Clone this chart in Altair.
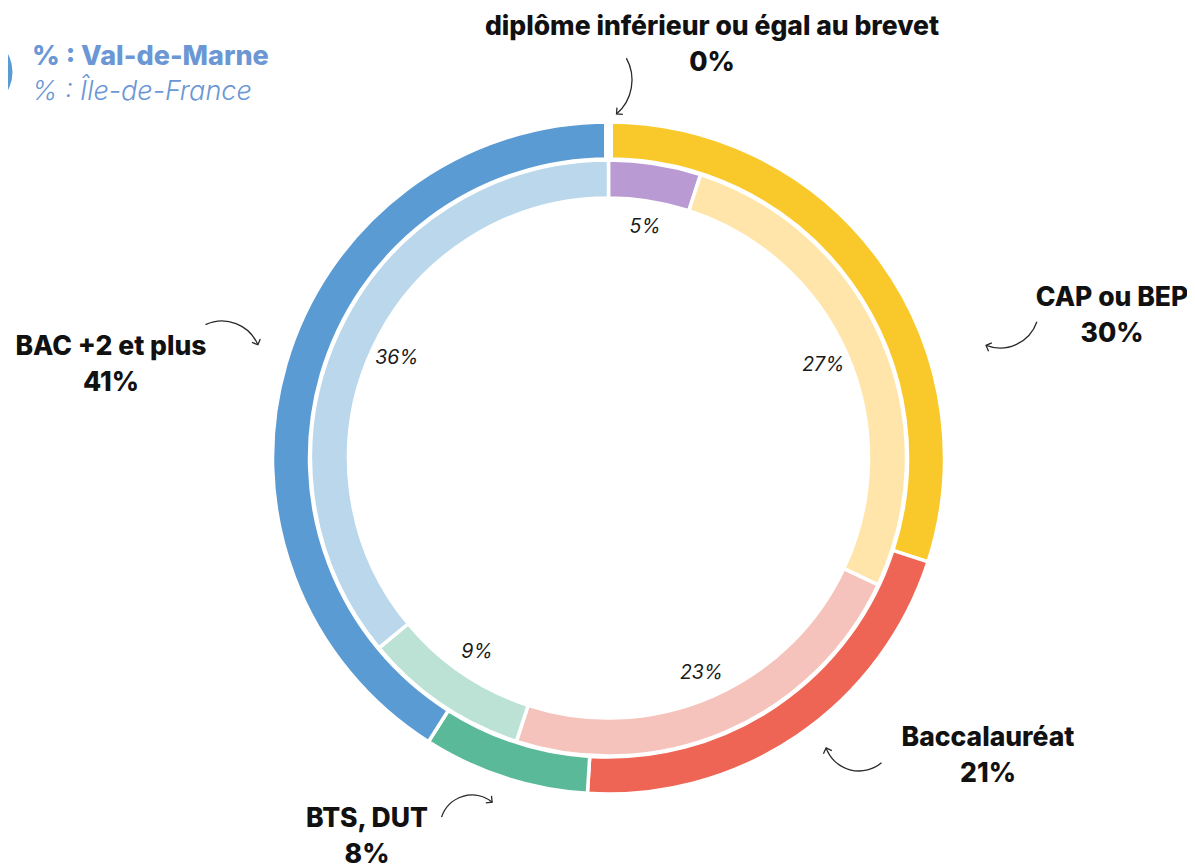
import math
import altair as alt
import pandas as pd

# ---------------- data ----------------
categories = ["diplôme inférieur  ou égal au brevet", "CAP ou BEP", "Baccalauréat", "BTS, DUT", "BAC +2 et plus"]
val_de_marne = [0, 30, 21, 8, 41]
ile_de_france = [5, 27, 23, 9, 36]
legend_labels = ["% : Val-de-Marne", "% : Île-de-France"]

# ---------------- styles / layout ----------------
outer_colors = ["#B99AD2", "#F9C92C", "#EE6555", "#59B998", "#5B9BD3"]
inner_colors = ["#B99AD2", "#FFE5A9", "#F5C3BB", "#BCE2D6", "#BAD7EB"]
FONT = "Inter"
LBL_SIZE = 26.5
CX, CY = 600.5, 450.0
# outer label anchor positions (plot pixels), one per category
label_x = [704, 1104, 980, 359, 103]
label_y = [19, 290, 730, 811, 339]
# decorative arrows: centre x, centre y, radius, start deg, end deg
arrows = [
    (579, 72, 45, 61, 139),
    (992, 301, 39, 109, 201),
    (214, 352, 39, 335, 427),
    (464, 819, 32, 288, 399),
    (851, 728, 35, 140, 250),
]

df = pd.DataFrame({
    "cat": categories,
    "idx": list(range(len(categories))),
    "vdm": val_de_marne,
    "idf": ile_de_france,
})
df["vdm_lbl"] = [f"{v}%" for v in val_de_marne]
df["idf_lbl"] = [f"{v}%" for v in ile_de_france]

lbl = pd.DataFrame({"name": categories, "pct": [f"{v}%" for v in val_de_marne],
                    "lx": label_x, "ly": label_y})

outer = alt.Chart(df).mark_arc(innerRadius=299, outerRadius=336, stroke="white", strokeWidth=3.5).encode(
    theta=alt.Theta("vdm:Q", stack=True),
    order=alt.Order("idx:Q"),
    color=alt.Color("cat:N", scale=alt.Scale(domain=categories, range=outer_colors), legend=None),
    x=alt.value(CX), y=alt.value(CY),
)

# the empty (0 %) slice is drawn on top as a wider white separator
gap = alt.Chart(df).transform_window(
    cum="sum(vdm)", sort=[alt.SortField("idx")]
).transform_calculate(start="datum.cum - datum.vdm").transform_filter(
    "datum.vdm == 0"
).mark_arc(innerRadius=299, outerRadius=337, stroke="white", strokeWidth=9, fill="white").encode(
    theta=alt.Theta("start:Q", stack=False),
    theta2=alt.Theta2("cum:Q"),
    x=alt.value(CX), y=alt.value(CY),
)

inner = alt.Chart(df).mark_arc(innerRadius=260, outerRadius=298, stroke="white", strokeWidth=3.5).encode(
    theta=alt.Theta("idf:Q", stack=True),
    order=alt.Order("idx:Q"),
    fill=alt.Fill("cat:N", scale=alt.Scale(domain=categories, range=inner_colors), legend=None),
    x=alt.value(CX), y=alt.value(CY),
)

inner_txt = alt.Chart(df).mark_text(radius=234, font=FONT, fontSize=19.5, fontStyle="italic",
                                    fontWeight=400, color="#1a1a1a").encode(
    theta=alt.Theta("idf:Q", stack=True),
    order=alt.Order("idx:Q"),
    text="idf_lbl:N",
    x=alt.value(CX), y=alt.value(CY),
)

name_txt = alt.Chart(lbl).mark_text(font=FONT, fontSize=LBL_SIZE, fontWeight=800, color="#111",
                                    align="center", baseline="middle").encode(
    x=alt.X("lx:Q", scale=None), y=alt.Y("ly:Q", scale=None), text="name:N")
pct_txt = alt.Chart(lbl).mark_text(font=FONT, fontSize=LBL_SIZE, fontWeight=800, color="#111",
                                   align="center", baseline="middle", dy=36).encode(
    x=alt.X("lx:Q", scale=None), y=alt.Y("ly:Q", scale=None), text="pct:N")

one = pd.DataFrame({"k": [0]})
deco = []
for (cx, cy, r, a0, a1) in arrows:
    t0, t1 = math.radians(a0), math.radians(a1)
    deco.append(alt.Chart(one).mark_arc(innerRadius=r, outerRadius=r, theta=t0, theta2=t1,
                                        fillOpacity=0, stroke="#2a2a2a", strokeWidth=1.3).encode(
        x=alt.value(cx), y=alt.value(cy)))
    px = cx + r * math.sin(t1)
    py = cy - r * math.cos(t1)
    deco.append(alt.Chart(one).mark_point(shape="M-1,-1L0,0L-1,1", filled=False, size=80,
                                          strokeWidth=1.3, color="#2a2a2a", angle=a1 % 360,
                                          opacity=1).encode(
        x=alt.value(px), y=alt.value(py)))

ring = alt.Chart(one).mark_arc(innerRadius=31, outerRadius=38.5, theta=0, theta2=6.2832,
                               color="#5B9BD3").encode(x=alt.value(-34), y=alt.value(64))
leg1 = alt.Chart(one).mark_text(text=legend_labels[0], font=FONT, fontSize=27, fontWeight=800,
                                color="#6B97D5", align="left", baseline="middle").encode(
    x=alt.value(24), y=alt.value(49))
leg2 = alt.Chart(one).mark_text(text=legend_labels[1], font=FONT, fontSize=27, fontStyle="italic",
                                fontWeight=300, color="#6B97D5", align="left", baseline="middle").encode(
    x=alt.value(24), y=alt.value(84))

chart = alt.layer(outer, gap, inner, inner_txt, name_txt, pct_txt, *deco, ring, leg1, leg2).resolve_scale(
    color="independent", fill="independent"
).properties(
    width=1179, height=860, autosize=alt.AutoSizeParams(type="none"), padding=0,
    background="white"
).configure_view(stroke=None)

chart.save("out.html", embed_options={"renderer": "svg", "actions": False})
